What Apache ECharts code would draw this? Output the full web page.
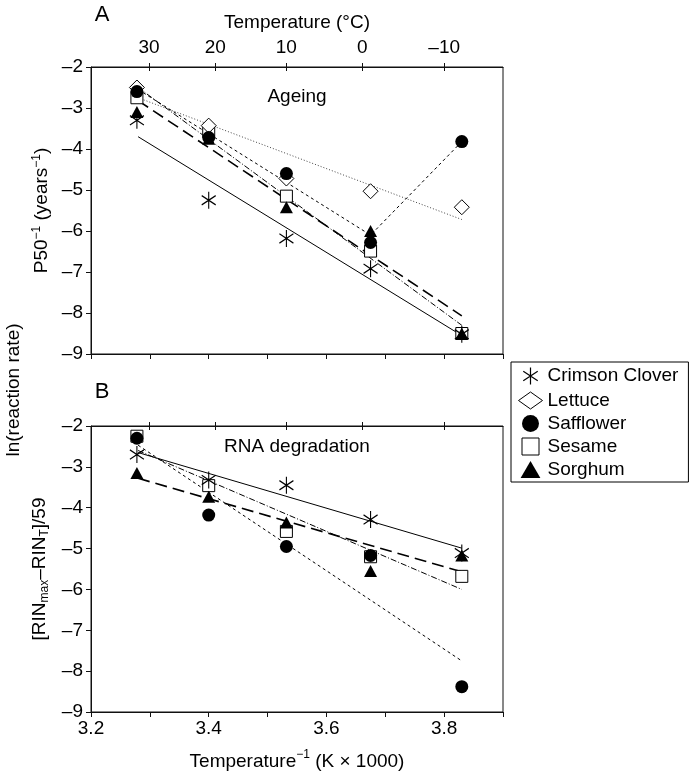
<!DOCTYPE html>
<html>
<head>
<meta charset="utf-8">
<script src="https://cdn.jsdelivr.net/npm/echarts@6/dist/echarts.min.js"></script>
<style>
html,body{margin:0;padding:0;background:#fff;}
#chart{width:695px;height:775px;}
</style>
</head>
<body>
<div id="chart"></div>
<script>
// ---- data ----
const species = ['Crimson Clover', 'Lettuce', 'Safflower', 'Sesame', 'Sorghum'];
const invTemp = [3.278, 3.40, 3.532, 3.675, 3.83];      // 1000/K
const tempTicksC = [30, 20, 10, 0, -10];                  // top axis labels (°C)

// Panel A: Ageing, ln(P50^-1)
const ageClover    = [-3.3, -5.25, -6.18, -6.92, -8.52];
const ageLettuce   = [-2.5, -3.43, -4.72, -5.03, -5.42];
const ageSafflower = [-2.6, -3.72, -4.6, -6.28, -3.82];
const ageSesame    = [-2.75, -3.57, -5.15, -6.49, -8.5];
const ageSorghum   = [-3.1, -3.75, -5.42, -6.0, -8.5];

// Panel B: RNA degradation
const rnaClover    = [-2.7, -3.32, -3.45, -4.29, -5.11];
const rnaSafflower = [-2.3, -4.18, -4.95, -5.17, -8.38];
const rnaSesame    = [-2.25, -3.46, -4.58, -5.2, -5.68];
const rnaSorghum   = [-3.15, -3.73, -4.36, -5.55, -5.17];

// fitted lines (end points)
const fitX = [3.28, 3.83];
const ageFitClover = [-3.7, -8.55];
const ageFitLettuce = [-2.75, -5.72];
const ageFitSafflowerX = [3.28, 3.675, 3.83];
const ageFitSafflower = [-2.55, -6.1, -3.82];
const ageFitSesame = [-2.5, -8.3];
const ageFitSorghum = [-2.82, -8.07];
const rnaFitClover = [-2.65, -4.99];
const rnaFitSafflower = [-2.47, -7.75];
const rnaFitSesame = [-2.6, -6.0];
const rnaFitSorghum = [-3.28, -5.57];

// ---- styling ----
const FONT = 'Liberation Sans, Arial, Helvetica, sans-serif';
const INK = '#111';
const ASTER = 'path://M0,-10L0,10M-8.5,-5.5L8.5,5.5M-8.5,5.5L8.5,-5.5';
const SQUARE = 'path://M0,0L10,0L10,10L0,10Z';
const TRI = 'path://M5,0L10,8.6L0,8.6Z';

const markerStyle = {
  'Crimson Clover': {symbol: ASTER, symbolSize: [14, 17], itemStyle: {color: 'none', borderColor: '#000', borderWidth: 1.2, opacity: 1}},
  'Lettuce': {symbol: 'diamond', symbolSize: [15, 15], itemStyle: {color: '#fff', borderColor: '#000', borderWidth: 1, opacity: 1}},
  'Safflower': {symbol: 'circle', symbolSize: 13, itemStyle: {color: '#000', opacity: 1}},
  'Sesame': {symbol: 'rect', symbolSize: 12, itemStyle: {color: '#fff', borderColor: '#000', borderWidth: 1, opacity: 1}},
  'Sorghum': {symbol: 'triangle', symbolSize: [13, 12], itemStyle: {color: '#000', opacity: 1}}
};
const lineStyles = {
  'Crimson Clover': {type: 'solid', width: 1, color: '#000', opacity: 1},
  'Lettuce': {type: [1, 2], width: 1, color: '#444', opacity: 1},
  'Safflower': {type: [3, 3], width: 1, color: '#000', opacity: 1},
  'Sesame': {type: [6, 2, 1, 2], width: 1, color: '#000', opacity: 1},
  'Sorghum': {type: [12, 6], width: 1.6, color: '#000', opacity: 1}
};

function pts(xs, ys) { return ys.map((y, i) => [xs[i], y]); }

function scatter(name, ys, idx) {
  const m = markerStyle[name];
  return {
    type: 'scatter', name: name, xAxisIndex: idx === 0 ? 0 : 3, yAxisIndex: idx,
    data: pts(invTemp, ys), symbol: m.symbol, symbolSize: m.symbolSize,
    itemStyle: m.itemStyle, z: 5, silent: true
  };
}
function fit(name, xs, ys, idx) {
  return {
    type: 'line', name: 'fit-' + idx + '-' + name, xAxisIndex: idx === 0 ? 0 : 3, yAxisIndex: idx,
    data: pts(xs, ys), symbol: 'none', lineStyle: lineStyles[name], z: 3, silent: true
  };
}

const tempTickVals = tempTicksC.map(t => 1000 / (t + 273.15));
const dash = s => String(s).replace('-', '\u2013');

const axisLineStyle = {color: INK, width: 1};
const labelStyle = {fontSize: 19, fontFamily: FONT, color: '#000'};

function bottomAxis(grid, showLabels, withName) {
  const ax = {
    gridIndex: grid, type: 'value', position: 'bottom', min: 3.2, max: 3.9, interval: 0.1,
    axisLine: {show: true, onZero: false, lineStyle: axisLineStyle},
    axisTick: {show: true, inside: false, length: 5, lineStyle: axisLineStyle},
    axisLabel: {show: showLabels, margin: 7, ...labelStyle,
      formatter: v => { const k = Math.round(v * 10); return (k % 2 === 0 && k < 39) ? (k / 10).toFixed(1) : ''; }},
    splitLine: {show: false}
  };
  if (withName) {
    ax.name = '{n|Temperature}{s|\u22121}{n| (K \u00d7 1000)}';
    ax.nameLocation = 'middle';
    ax.nameGap = 37;
    ax.nameTextStyle = {rich: {
      n: {fontSize: 19, fontFamily: FONT, color: '#000', lineHeight: 22, verticalAlign: 'bottom'},
      s: {fontSize: 12, fontFamily: FONT, color: '#000', lineHeight: 22, verticalAlign: 'top'}
    }};
  }
  return ax;
}
function topAxis(grid, showLabels, withName) {
  const ax = {
    gridIndex: grid, type: 'value', position: 'top', min: 3.2, max: 3.9,
    axisLine: {show: true, onZero: false, lineStyle: axisLineStyle},
    axisTick: {show: true, inside: false, length: 4, customValues: tempTickVals, lineStyle: axisLineStyle},
    axisLabel: {show: showLabels, margin: 10, ...labelStyle, customValues: tempTickVals,
      formatter: v => dash(Math.round(1000 / v - 273.15))},
    splitLine: {show: false}
  };
  if (withName) {
    ax.name = 'Temperature (\u00b0C)';
    ax.nameLocation = 'middle';
    ax.nameGap = 35;
    ax.nameTextStyle = {...labelStyle};
  }
  return ax;
}
function topInnerTicks(grid) {
  return {
    gridIndex: grid, type: 'value', position: 'top', min: 3.2, max: 3.9,
    axisLine: {show: false},
    axisTick: {show: true, inside: true, length: 4, customValues: tempTickVals, lineStyle: axisLineStyle},
    axisLabel: {show: false}, splitLine: {show: false}
  };
}
function yAxis(grid, name) {
  return {
    gridIndex: grid, type: 'value', min: -9, max: -2, interval: 1, position: 'left',
    axisLine: {show: true, onZero: false, lineStyle: axisLineStyle},
    axisTick: {show: true, inside: false, length: 5, lineStyle: axisLineStyle},
    axisLabel: {margin: 8, ...labelStyle, formatter: v => dash(v)},
    splitLine: {show: false},
    name: name, nameLocation: 'middle', nameGap: 38,
    nameTextStyle: {rich: {
      n: {fontSize: 19, fontFamily: FONT, color: '#000', lineHeight: 22, verticalAlign: 'middle'},
      s: {fontSize: 12, fontFamily: FONT, color: '#000', lineHeight: 22, verticalAlign: 'top'},
      b: {fontSize: 12, fontFamily: FONT, color: '#000', lineHeight: 22, verticalAlign: 'bottom'}
    }}
  };
}

const series = [];
// panel A
series.push(fit('Crimson Clover', fitX, ageFitClover, 0));
series.push(fit('Lettuce', fitX, ageFitLettuce, 0));
series.push(fit('Safflower', ageFitSafflowerX, ageFitSafflower, 0));
series.push(fit('Sesame', fitX, ageFitSesame, 0));
series.push(fit('Sorghum', fitX, ageFitSorghum, 0));
series.push(scatter('Sesame', ageSesame, 0));
series.push(scatter('Lettuce', ageLettuce, 0));
series.push(scatter('Sorghum', ageSorghum, 0));
series.push(scatter('Safflower', ageSafflower, 0));
series.push(scatter('Crimson Clover', ageClover, 0));
// panel B
series.push(fit('Crimson Clover', fitX, rnaFitClover, 1));
series.push(fit('Safflower', fitX, rnaFitSafflower, 1));
series.push(fit('Sesame', fitX, rnaFitSesame, 1));
series.push(fit('Sorghum', fitX, rnaFitSorghum, 1));
series.push(scatter('Sesame', rnaSesame, 1));
series.push(scatter('Sorghum', rnaSorghum, 1));
series.push(scatter('Safflower', rnaSafflower, 1));
series.push(scatter('Crimson Clover', rnaClover, 1));

const legendIcons = {
  'Crimson Clover': {icon: ASTER, itemStyle: {color: 'none', borderColor: '#000', borderWidth: 1.2, opacity: 1}},
  'Lettuce': {icon: 'diamond', itemStyle: {color: '#fff', borderColor: '#000', borderWidth: 1, opacity: 1}},
  'Safflower': {icon: 'circle', itemStyle: {color: '#000', borderWidth: 0, opacity: 1}},
  'Sesame': {icon: SQUARE, itemStyle: {color: '#fff', borderColor: '#000', borderWidth: 1, opacity: 1}},
  'Sorghum': {icon: TRI, itemStyle: {color: '#000', borderWidth: 0, opacity: 1}}
};

const chart = echarts.init(document.getElementById('chart'), null, {renderer: 'canvas'});
chart.setOption({
  animation: false,
  backgroundColor: '#fff',
  grid: [
    {left: 91, top: 67, width: 412, height: 287, show: true, borderColor: INK, borderWidth: 1, backgroundColor: 'transparent'},
    {left: 91, top: 426, width: 412, height: 286, show: true, borderColor: INK, borderWidth: 1, backgroundColor: 'transparent'}
  ],
  xAxis: [
    bottomAxis(0, false, false), topAxis(0, true, true), topInnerTicks(0),
    bottomAxis(1, true, true), topAxis(1, false, false), topInnerTicks(1)
  ],
  yAxis: [
    yAxis(0, '{n|P50}{s|\u22121}{n| (years}{s|\u22121}{n|)}'),
    yAxis(1, '{n|[RIN}{b|max}{n|\u2013RIN}{b|T}{n|]/59}')
  ],
  legend: {
    show: true, orient: 'vertical', left: 511, top: 362,
    padding: [3, 10, 3, 7], itemWidth: 24, itemHeight: 17, itemGap: 4,
    borderColor: '#000', borderWidth: 1, selectedMode: false,
    textStyle: {fontSize: 19, fontFamily: FONT, color: '#000'},
    data: species.map(n => ({name: n, icon: legendIcons[n].icon, itemStyle: legendIcons[n].itemStyle}))
  },
  graphic: [
    {type: 'text', x: 102, y: 15, style: {text: 'A', fontSize: 22, fontFamily: FONT, fill: '#000', textAlign: 'center', textVerticalAlign: 'middle'}},
    {type: 'text', x: 102, y: 392, style: {text: 'B', fontSize: 22, fontFamily: FONT, fill: '#000', textAlign: 'center', textVerticalAlign: 'middle'}},
    {type: 'text', x: 297, y: 97, style: {text: 'Ageing', fontSize: 19, fontFamily: FONT, fill: '#000', textAlign: 'center', textVerticalAlign: 'middle'}},
    {type: 'text', x: 297, y: 447, style: {text: 'RNA degradation', fontSize: 19, fontFamily: FONT, fill: '#000', textAlign: 'center', textVerticalAlign: 'middle'}},
    {type: 'text', x: 14, y: 390, rotation: Math.PI / 2, style: {text: 'ln(reaction rate)', fontSize: 19, fontFamily: FONT, fill: '#000', textAlign: 'center', textVerticalAlign: 'middle'}}
  ],
  series: series
});
</script>
</body>
</html>
